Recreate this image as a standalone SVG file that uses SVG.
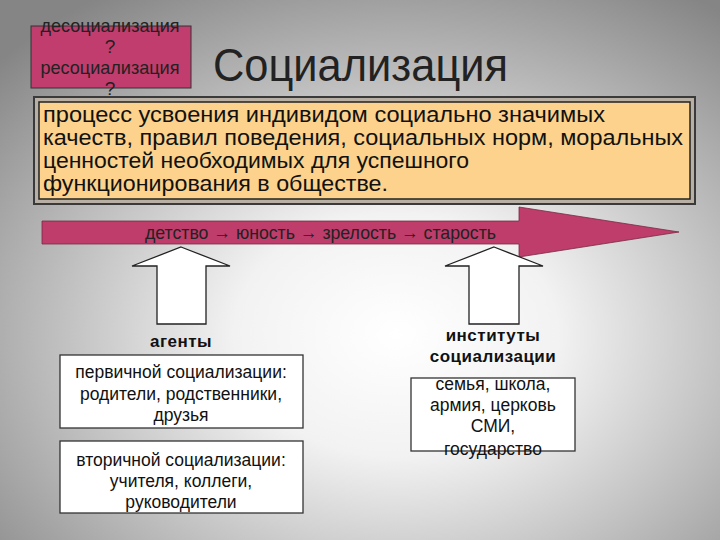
<svg xmlns="http://www.w3.org/2000/svg" width="720" height="540" viewBox="0 0 720 540">
<defs>
<radialGradient id="bg" cx="0.55" cy="0.62" r="0.75">
<stop offset="0" stop-color="#ffffff"/>
<stop offset="0.3" stop-color="#f2f2f2"/>
<stop offset="1" stop-color="#858585"/>
</radialGradient>
<style>
.n{font-family:"Liberation Sans",Arial,sans-serif;fill:#222}
.d{font-family:"Liberation Sans",Arial,sans-serif;font-size:22px;fill:#111}
.box{fill:#fff;stroke:#333;stroke-width:1.3}
.bt{font-family:"Liberation Sans",Arial,sans-serif;font-size:17.5px;fill:#111;text-anchor:middle}
.lbl{font-family:"Liberation Sans",Arial,sans-serif;font-size:17px;font-weight:bold;fill:#111;text-anchor:middle;letter-spacing:0.5px}
.up{fill:#fff;stroke:#222;stroke-width:1.3}
</style>
</defs>
<rect width="720" height="540" fill="url(#bg)"/>

<g id="title">
<text class="n" x="213" y="81" font-size="46" textLength="295" lengthAdjust="spacingAndGlyphs" fill="#000">Социализация</text>
</g>

<g id="desocial">
<rect x="31" y="26" width="160" height="62" fill="#c13d6d" stroke="#333" stroke-width="1"/>
<text class="n" font-size="19" text-anchor="middle" x="110" y="32" textLength="139" lengthAdjust="spacingAndGlyphs">десоциализация</text>
<text class="n" font-size="19" text-anchor="middle" x="110" y="53">?</text>
<text class="n" font-size="19" text-anchor="middle" x="110" y="74" textLength="139" lengthAdjust="spacingAndGlyphs">ресоциализация</text>
<text class="n" font-size="19" text-anchor="middle" x="110" y="95">?</text>
</g>

<g id="definition">
<rect x="33" y="96" width="663" height="109" fill="#3a3a3a"/>
<rect x="35" y="98" width="659" height="105" fill="#b8b0a4"/>
<rect x="39" y="102" width="651" height="97" fill="#fcd28c" stroke="#222" stroke-width="1.5"/>
<text class="d" x="43" y="122" textLength="562" lengthAdjust="spacingAndGlyphs">процесс усвоения индивидом социально значимых</text>
<text class="d" x="43" y="145" textLength="640" lengthAdjust="spacingAndGlyphs">качеств, правил поведения, социальных норм, моральных</text>
<text class="d" x="43" y="168" textLength="426" lengthAdjust="spacingAndGlyphs">ценностей необходимых для успешного</text>
<text class="d" x="43" y="191" textLength="345" lengthAdjust="spacingAndGlyphs">функционирования в обществе.</text>
</g>

<g id="timeline">
<polygon points="42,221 519,221 519,207 679,232 519,257 519,244 42,244" fill="#be3d6b" stroke="#7a2a45" stroke-width="0.8"/>
<text class="n" font-size="19" x="145" y="239" textLength="351" lengthAdjust="spacingAndGlyphs">детство → юность → зрелость → старость</text>
</g>

<g id="connectors">
<polygon class="up" points="181,247 230,266 206,266 206,324 157,324 157,266 132,266"/>
<polygon class="up" points="494,247 543,266 519,266 519,324 469,324 469,266 445,266"/>
</g>

<g id="agents">
<text class="lbl" x="181" y="347">агенты</text>
</g>

<g id="institutes">
<text class="lbl" x="493" y="341">институты</text>
<text class="lbl" x="493" y="362">социализации</text>
</g>

<g id="primary">
<rect class="box" x="60" y="355" width="243" height="73"/>
<text class="bt" x="181" y="378">первичной социализации:</text>
<text class="bt" x="181" y="400">родители, родственники,</text>
<text class="bt" x="181" y="421">друзья</text>
</g>

<g id="secondary">
<rect class="box" x="60" y="441" width="243" height="72"/>
<text class="bt" x="181" y="466">вторичной социализации:</text>
<text class="bt" x="181" y="487">учителя, коллеги,</text>
<text class="bt" x="181" y="508">руководители</text>
</g>

<g id="institutions">
<rect class="box" x="411" y="378" width="164" height="73"/>
<text class="bt" x="493" y="390">семья, школа,</text>
<text class="bt" x="493" y="411">армия, церковь</text>
<text class="bt" x="493" y="432">СМИ,</text>
<text class="bt" x="493" y="455">государство</text>
</g>
</svg>
